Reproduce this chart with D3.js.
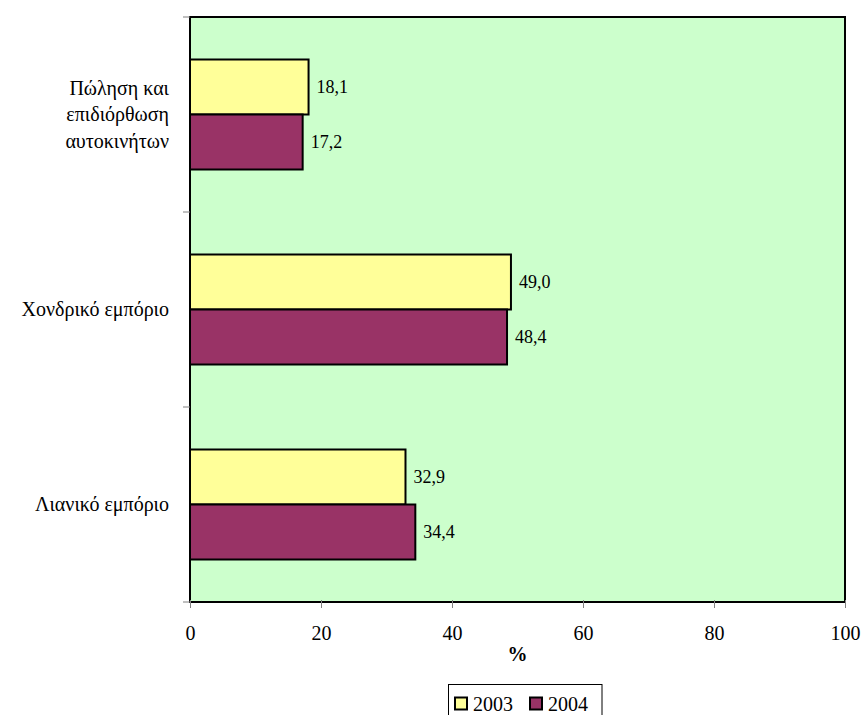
<!DOCTYPE html>
<html><head><meta charset="utf-8">
<script src="https://cdn.jsdelivr.net/npm/d3@7"></script>
<style>body{margin:0;background:#fff}svg{display:block}</style>
</head><body>
<svg id="c" width="862" height="715"></svg>
<script>
const categories = [["Πώληση και","επιδιόρθωση","αυτοκινήτων"],["Χονδρικό εμπόριο"],["Λιανικό εμπόριο"]];
const seriesNames = ["2003","2004"];
const values2003 = [18.1, 49.0, 32.9];
const values2004 = [17.2, 48.4, 34.4];
const xTicks = [0,20,40,60,80,100];
const colors = ["#FFFF99","#993366"];

const FF = "'Liberation Serif', 'Times New Roman', serif";
const svg = d3.select("#c");
const L=190,R=845,T=17,B=602;
const x = d3.scaleLinear().domain([0,100]).range([L,R]);
const y = d3.scaleBand().domain(d3.range(categories.length)).range([T,B]);
const inner = d3.scaleBand().domain([0,1]).range([0,110]);
const fmt = v => d3.format(".1f")(v).replace(".",",");

svg.append("rect").attr("x",L).attr("y",T).attr("width",R-L).attr("height",B-T).attr("fill","#CCFFCC");

const series = [values2003, values2004];
series.forEach((vals,si)=>{
  const g = svg.append("g");
  vals.forEach((v,ci)=>{
    const y0 = y(ci) + (y.bandwidth()-110)/2 + inner(si);
    g.append("rect").attr("x",x(0)).attr("y",y0).attr("width",x(v)-x(0)).attr("height",inner.bandwidth())
      .attr("fill",colors[si]).attr("stroke","#000").attr("stroke-width",2);
    g.append("text").attr("x",x(v)+8).attr("y",y0+inner.bandwidth()/2).attr("dy","0.33em")
      .style("font-family",FF).style("font-size","18px").attr("fill","#000").text(fmt(v));
  });
});

// border
svg.append("rect").attr("x",L).attr("y",T).attr("width",R-L).attr("height",B-T).attr("fill","none").attr("stroke","#000").attr("stroke-width",2);

// x axis
const xa = svg.append("g").attr("transform",`translate(0,${B})`)
  .call(d3.axisBottom(x).tickValues(xTicks).tickSize(6).tickSizeOuter(0).tickPadding(0));
xa.select(".domain").remove();
xa.selectAll("line").attr("stroke","#808080").attr("y1",-2);
xa.selectAll("text").style("font-family",FF).style("font-size","20px").attr("fill","#000").attr("dy",null).attr("y",38);

// y axis ticks (category boundaries)
const yb = d3.range(categories.length+1).map(i=>T+i*y.step());
svg.selectAll(".yt").data(yb).join("line").attr("x1",L-7).attr("x2",L).attr("y1",d=>d).attr("y2",d=>d).attr("stroke","#808080");

// category labels
categories.forEach((lines,ci)=>{
  const cy = y(ci)+y.bandwidth()/2;
  const lh = 26.5;
  const t = svg.append("text").attr("text-anchor","end").style("font-family",FF).style("font-size","20px").attr("fill","#000");
  lines.forEach((ln,i)=>{
    t.append("tspan").attr("x",169).attr("y",cy+(i-(lines.length-1)/2)*lh).attr("dy","0.33em").text(ln);
  });
});

// axis title
svg.append("text").attr("x",(L+R)/2).attr("y",661).attr("text-anchor","middle").style("font-family",FF).style("font-size","20px").attr("font-weight","bold").text("%");

// legend
const lg = svg.append("g");
lg.append("rect").attr("x",448.5).attr("y",684.5).attr("width",153.5).attr("height",40).attr("fill","#fff").attr("stroke","#000");
const lx = [455, 530];
seriesNames.forEach((n,i)=>{
  lg.append("rect").attr("x",lx[i]).attr("y",697.5).attr("width",12).attr("height",12).attr("fill",colors[i]).attr("stroke","#000").attr("stroke-width",2);
  lg.append("text").attr("x",lx[i]+18).attr("y",711).style("font-family",FF).style("font-size","20px").text(n);
});
</script>
</body></html>
